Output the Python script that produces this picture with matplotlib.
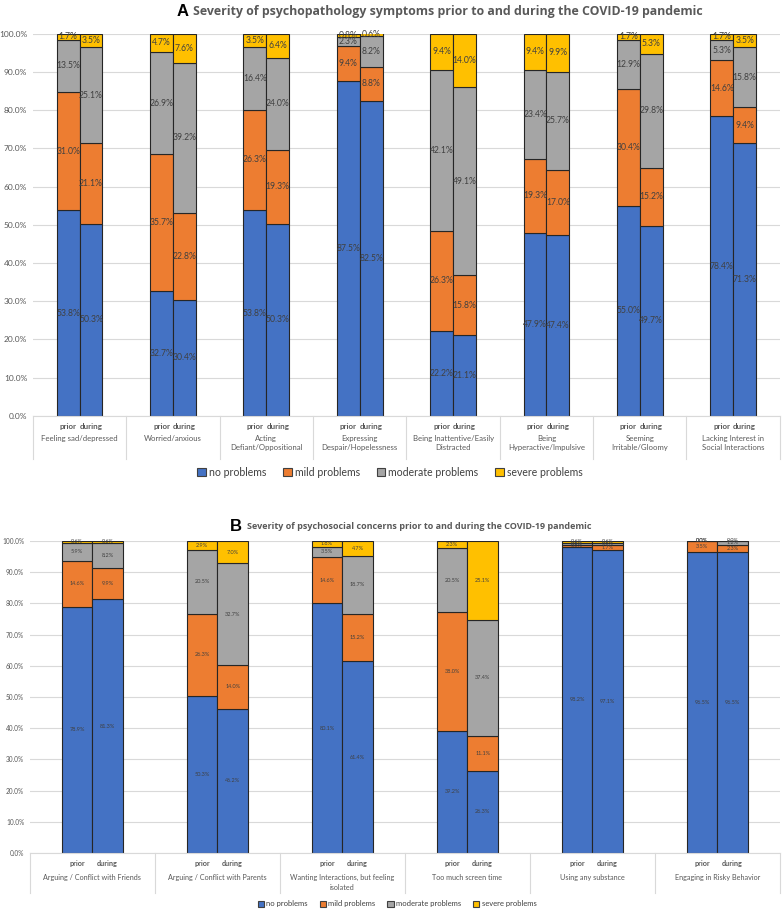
import matplotlib as mpl
mpl.use("Agg")
import matplotlib.pyplot as plt
from matplotlib.patches import Patch
from matplotlib.ticker import FuncFormatter
import numpy as np

plt.rcParams['font.family'] = ['Lato', 'DejaVu Sans']

levels = ["no problems", "mild problems", "moderate problems", "severe problems"]
colors = ["#4472C4", "#ED7D31", "#A5A5A5", "#FFC000"]
periods = ["prior", "during"]

# panel A: psychopathology symptoms
a_cats = ["Feeling sad/depressed", "Worried/anxious", "Acting\nDefiant/Oppositional",
          "Expressing\nDespair/Hopelessness", "Being Inattentive/Easily\nDistracted",
          "Being\nHyperactive/Impulsive", "Seeming\nIrritable/Gloomy",
          "Lacking Interest in\nSocial Interactions"]
a_no_prior = [53.8, 32.7, 53.8, 87.5, 22.2, 47.9, 55.0, 78.4]
a_mild_prior = [31.0, 35.7, 26.3, 9.4, 26.3, 19.3, 30.4, 14.6]
a_mod_prior = [13.5, 26.9, 16.4, 2.3, 42.1, 23.4, 12.9, 5.3]
a_sev_prior = [1.7, 4.7, 3.5, 0.8, 9.4, 9.4, 1.7, 1.7]
a_no_during = [50.3, 30.4, 50.3, 82.5, 21.1, 47.4, 49.7, 71.3]
a_mild_during = [21.1, 22.8, 19.3, 8.8, 15.8, 17.0, 15.2, 9.4]
a_mod_during = [25.1, 39.2, 24.0, 8.2, 49.1, 25.7, 29.8, 15.8]
a_sev_during = [3.5, 7.6, 6.4, 0.6, 14.0, 9.9, 5.3, 3.5]

# panel B: psychosocial concerns
b_cats = ["Arguing / Conflict with Friends", "Arguing / Conflict with Parents",
          "Wanting Interactions, but feeling\nisolated", "Too much screen time",
          "Using any substance", "Engaging in Risky Behavior"]
b_no_prior = [78.9, 50.3, 80.1, 39.2, 98.2, 96.5]
b_mild_prior = [14.6, 26.3, 14.6, 38.0, 0.6, 3.5]
b_mod_prior = [5.9, 20.5, 3.5, 20.5, 0.6, 0.0]
b_sev_prior = [0.6, 2.9, 1.8, 2.3, 0.6, 0.0]
b_no_during = [81.3, 46.2, 61.4, 26.3, 97.1, 96.5]
b_mild_during = [9.9, 14.0, 15.2, 11.1, 1.7, 2.3]
b_mod_during = [8.2, 32.7, 18.7, 37.4, 0.6, 1.2]
b_sev_during = [0.6, 7.0, 4.7, 25.1, 0.6, 0.0]


def draw_panel(ax, cats, prior, during, fs_val, fs_tick, fs_cat, fs_per,
               y_per, y_cat, y_sep):
    x = np.arange(len(cats))
    w = 0.245
    for off, stack in ((-w / 2, prior), (w / 2, during)):
        bottom = np.zeros(len(cats))
        for vals, c in zip(stack, colors):
            vals = np.array(vals)
            ax.bar(x + off, vals, w, bottom=bottom, color=c,
                   edgecolor="#262626", linewidth=0.8, zorder=2)
            for xi, v, b in zip(x + off, vals, bottom):
                ax.text(xi, b + v / 2, f"{v:.1f}%", ha="center", va="center",
                        fontsize=fs_val, color="#404040", zorder=3)
            bottom += vals
    ax.set_xlim(-0.5, len(cats) - 0.5)
    ax.set_ylim(0, 100)
    ax.set_yticks(np.arange(0, 101, 10))
    ax.yaxis.set_major_formatter(FuncFormatter(lambda v, p: f"{v:.1f}%"))
    ax.tick_params(axis="y", length=0, labelsize=fs_tick, labelcolor="#595959", pad=4)
    ax.set_xticks([])
    ax.grid(axis="y", color="#D9D9D9", linewidth=0.8, zorder=0)
    for s in ("left", "right", "top"):
        ax.spines[s].set_visible(False)
    ax.spines["bottom"].set_color("#D9D9D9")
    tr = ax.get_xaxis_transform()
    for i, cat in enumerate(cats):
        for off, per in zip((-w / 2, w / 2), periods):
            ax.text(i + off, y_per, per, transform=tr, ha="center", va="center",
                    fontsize=fs_per, color="#595959", fontweight="bold")
        ax.text(i, y_cat, cat, transform=tr, ha="center", va="top",
                fontsize=fs_cat, color="#595959", linespacing=1.4)
    for b in np.arange(len(cats) + 1) - 0.5:
        ax.plot([b, b], [0, y_sep], transform=tr, color="#D9D9D9",
                linewidth=0.8, clip_on=False)


fig = plt.figure(figsize=(7.83, 9.10), dpi=100)

axA = fig.add_axes([0.042, 0.543, 0.954, 0.420])
draw_panel(axA, a_cats,
           [a_no_prior, a_mild_prior, a_mod_prior, a_sev_prior],
           [a_no_during, a_mild_during, a_mod_during, a_sev_during],
           fs_val=6.2, fs_tick=6, fs_cat=5.6, fs_per=5.8,
           y_per=-0.029, y_cat=-0.050, y_sep=-0.113)

axB = fig.add_axes([0.038, 0.0626, 0.958, 0.343])
draw_panel(axB, b_cats,
           [b_no_prior, b_mild_prior, b_mod_prior, b_sev_prior],
           [b_no_during, b_mild_during, b_mod_during, b_sev_during],
           fs_val=4.0, fs_tick=4.7, fs_cat=5.2, fs_per=5.2,
           y_per=-0.032, y_cat=-0.068, y_sep=-0.128)

# titles
fig.text(0.225, 0.987, "A", fontsize=12, fontweight="bold", color="black",
         family="Liberation Sans", va="center")
fig.text(0.246, 0.987, "Severity of psychopathology symptoms prior to and during the COVID-19 pandemic",
         fontsize=8.95, fontweight="bold", color="#595959", family="Open Sans", va="center")
fig.text(0.294, 0.4215, "B", fontsize=12, fontweight="bold", color="black",
         family="Liberation Sans", va="center")
fig.text(0.315, 0.4215, "Severity of psychosocial concerns prior to and during the COVID-19 pandemic",
         fontsize=6.45, fontweight="bold", color="#595959", family="Open Sans", va="center")

handles = [Patch(facecolor=c, edgecolor="#404040", linewidth=0.8) for c in colors]
fig.legend(handles, levels, loc="center", bbox_to_anchor=(0.498, 0.481), ncol=4,
           frameon=False, fontsize=7.6, handlelength=0.8, handleheight=0.8,
           handletextpad=0.3, columnspacing=1.6, labelcolor="#404040")
fig.legend(handles, levels, loc="center", bbox_to_anchor=(0.507, 0.0066), ncol=4,
           frameon=False, fontsize=5.5, handlelength=0.8, handleheight=0.8,
           handletextpad=0.3, columnspacing=1.6, labelcolor="#404040")

fig.savefig("out.png", dpi=100)
